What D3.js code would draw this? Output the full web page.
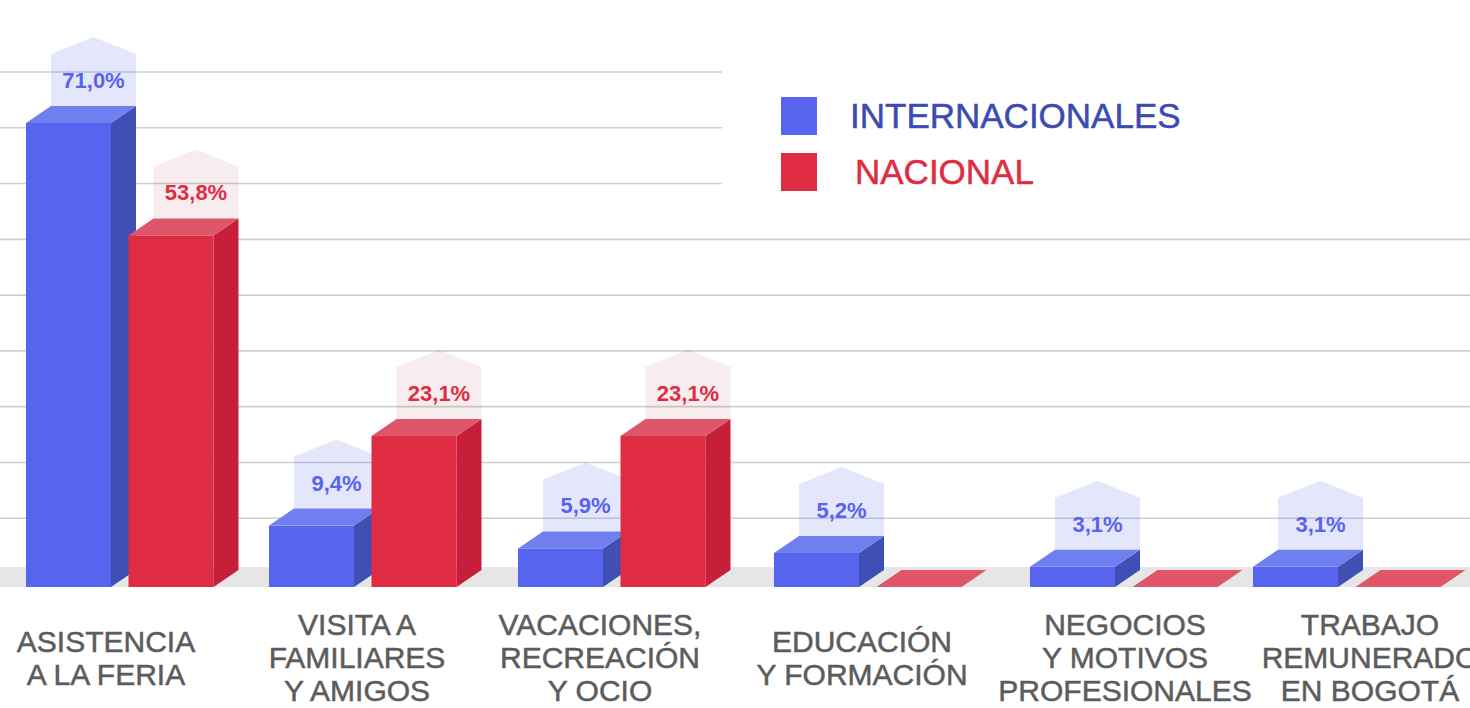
<!DOCTYPE html>
<html>
<head>
<meta charset="utf-8">
<script src="https://cdn.jsdelivr.net/npm/d3@7"></script>
<style>
  html, body { margin: 0; padding: 0; background: #ffffff; overflow: hidden; }
  svg { display: block; }
</style>
</head>
<body>
<svg id="chart" width="1470" height="708"></svg>
<script>
// ---- data ----
const categories = [
  ["ASISTENCIA", "A LA FERIA"],
  ["VISITA A", "FAMILIARES", "Y AMIGOS"],
  ["VACACIONES,", "RECREACIÓN", "Y OCIO"],
  ["EDUCACIÓN", "Y FORMACIÓN"],
  ["NEGOCIOS", "Y MOTIVOS", "PROFESIONALES"],
  ["TRABAJO", "REMUNERADO", "EN BOGOTÁ"]
];
const seriesNames = ["INTERNACIONALES", "NACIONAL"];
const internacionales = [71.0, 9.4, 5.9, 5.2, 3.1, 3.1];
const nacional = [53.8, 23.1, 23.1, 0, 0, 0];
const valueLabels = {
  INTERNACIONALES: ["71,0%", "9,4%", "5,9%", "5,2%", "3,1%", "3,1%"],
  NACIONAL: ["53,8%", "23,1%", "23,1%", "", "", ""]
};

// ---- styles ----
const W = 1470, H = 708;
const BASE = 587, BW = 85, DX = 25, DY = 17;
const palette = {
  INTERNACIONALES: { front: "#5664ee", side: "#3f4fb3", top: "#6f7ff0", label: "rgba(86,99,236,0.16)", text: "#5664ee", legendText: "#3d4ab2" },
  NACIONAL: { front: "#df2c43", side: "#c71f3a", top: "#df566b", label: "rgba(175,65,85,0.10)", text: "#df2c43", legendText: "#df2c43" }
};

const svg = d3.select("#chart");
const keys = categories.map(c => c.join(" "));

// ---- scales ----
const y = d3.scaleLinear().domain([0, 71]).range([BASE, 123]);
const x = d3.scaleOrdinal().domain(keys).range([26, 269, 518, 774, 1030, 1253]);
const seriesOffset = d3.scaleOrdinal().domain(seriesNames).range([0, 102.5]);
const labelX = d3.scaleOrdinal().domain(keys).range([106, 357, 600, 862, 1125, 1370]);
const grid = d3.scaleLinear().domain([0, 9]).range([574, 72]);

// ---- gridlines ----
svg.append("g").selectAll("line")
  .data(d3.range(1, 10))
  .join("line")
  .attr("x1", 0)
  .attr("x2", d => d >= 7 ? 722 : W)
  .attr("y1", d => grid(d))
  .attr("y2", d => grid(d))
  .attr("stroke", "#cfcfcf")
  .attr("stroke-width", 1.6);

// ---- floor ----
svg.append("rect")
  .attr("x", 0).attr("y", 567).attr("width", W).attr("height", BASE - 567)
  .attr("fill", "#e6e6e6");

// ---- bars ----
const rows = [];
keys.forEach((k, i) => {
  rows.push({ key: k, series: "INTERNACIONALES", value: internacionales[i], label: valueLabels.INTERNACIONALES[i] });
  rows.push({ key: k, series: "NACIONAL", value: nacional[i], label: valueLabels.NACIONAL[i] });
});

const bars = svg.append("g").selectAll("g.bar")
  .data(rows)
  .join("g")
  .attr("class", "bar");

bars.each(function(d) {
  const g = d3.select(this);
  const c = palette[d.series];
  const x0 = x(d.key) + seriesOffset(d.series);
  const top = y(d.value);
  if (d.value > 0) {
    // front
    g.append("rect")
      .attr("x", x0).attr("y", top).attr("width", BW).attr("height", BASE - top)
      .attr("fill", c.front);
    // side
    g.append("polygon")
      .attr("points", [[x0 + BW, BASE], [x0 + BW + DX, BASE - DY], [x0 + BW + DX, top - DY], [x0 + BW, top]].join(" "))
      .attr("fill", c.side);
  }
  // top face
  g.append("polygon")
    .attr("points", [[x0, top], [x0 + DX, top - DY], [x0 + BW + DX, top - DY], [x0 + BW, top]].join(" "))
    .attr("fill", c.top);

  // value label "house"
  if (d.label) {
    const lx0 = x0 + DX, lx1 = x0 + BW + DX, bottom = top - DY;
    const rTop = bottom - 52, apex = rTop - 17, cx = (lx0 + lx1) / 2;
    g.append("polygon")
      .attr("points", [[lx0, bottom], [lx0, rTop], [cx, apex], [lx1, rTop], [lx1, bottom]].join(" "))
      .attr("fill", c.label);
    g.append("text")
      .attr("x", cx)
      .attr("y", bottom - 26 + 8)
      .attr("text-anchor", "middle")
      .attr("font-family", "'Liberation Sans', Arial, sans-serif")
      .attr("font-weight", 700)
      .attr("font-size", 22)
      .attr("fill", c.text)
      .text(d.label);
  }
});

// ---- category labels ----
const lineH = 33;
const catG = svg.append("g").selectAll("text")
  .data(categories)
  .join("text")
  .attr("text-anchor", "middle")
  .attr("font-family", "'Liberation Sans', Arial, sans-serif")
  .attr("font-size", 30)
  .attr("fill", "#5c5c5c")
  .attr("stroke", "#5c5c5c")
  .attr("stroke-width", 0.5);

catG.each(function(lines) {
  const t = d3.select(this);
  const k = lines.join(" ");
  const midBase = 668; // baseline of middle line in 3-line labels
  const first = midBase - (lines.length - 1) / 2 * lineH;
  lines.forEach((ln, j) => {
    t.append("tspan")
      .attr("x", labelX(k))
      .attr("y", first + j * lineH)
      .text(ln);
  });
});

// ---- legend ----
const legendY = d3.scaleOrdinal().domain(seriesNames).range([97, 153]);
const legendTextX = d3.scaleOrdinal().domain(seriesNames).range([850, 855]);
const lg = svg.append("g").selectAll("g")
  .data(seriesNames)
  .join("g");
lg.append("rect")
  .attr("x", 781).attr("y", d => legendY(d))
  .attr("width", 36).attr("height", 38)
  .attr("fill", d => palette[d].front);
lg.append("text")
  .attr("x", d => legendTextX(d))
  .attr("y", d => legendY(d) + 31)
  .attr("font-family", "'Liberation Sans', Arial, sans-serif")
  .attr("font-size", 35)
  .attr("fill", d => palette[d].legendText)
  .attr("stroke", d => palette[d].legendText)
  .attr("stroke-width", 0.5)
  .text(d => d);
</script>
</body>
</html>
